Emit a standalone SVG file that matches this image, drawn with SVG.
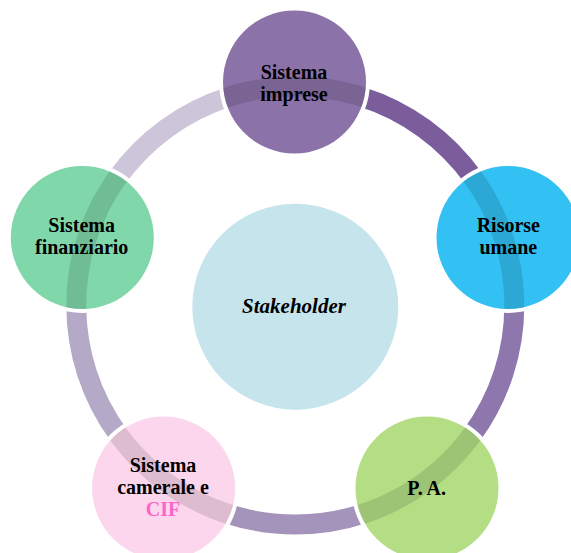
<svg xmlns="http://www.w3.org/2000/svg" width="571" height="553" viewBox="0 0 571 553">
  <style>
    .lbl { font-family: "Liberation Serif", "Times New Roman", serif; font-weight: bold; font-size: 20px; fill: #000; text-anchor: middle; }
    .arc { fill: none; stroke-width: 20; stroke-linecap: butt; }
    .halo { fill: #fff; }
  </style>
  <defs>
    <clipPath id="nodesClip">
      <circle cx="294.5" cy="82" r="71.5"/>
      <circle cx="508" cy="237.5" r="71.5"/>
      <circle cx="427" cy="488" r="71.5"/>
      <circle cx="163.6" cy="488" r="71.5"/>
      <circle cx="82.3" cy="237.5" r="71.5"/>
    </clipPath>
  </defs>
  <rect width="571" height="553" fill="#fff"/>

  <g id="connectors">
    <path class="arc" stroke="#7b5d9c" d="M295.3 86.5 A219 219 0 0 1 503.58 237.82"/>
    <path class="arc" stroke="#8e77ad" d="M503.58 237.82 A219 219 0 0 1 424.03 482.67"/>
    <path class="arc" stroke="#a494bc" d="M424.03 482.67 A219 219 0 0 1 166.57 482.67"/>
    <path class="arc" stroke="#b5a9c8" d="M166.57 482.67 A219 219 0 0 1 87.02 237.82"/>
    <path class="arc" stroke="#cdc6da" d="M87.02 237.82 A219 219 0 0 1 295.3 86.5"/>
  </g>

  <g id="halos">
    <circle class="halo" cx="294.5" cy="82" r="75.5"/>
    <circle class="halo" cx="508" cy="237.5" r="75.5"/>
    <circle class="halo" cx="427" cy="488" r="75.5"/>
    <circle class="halo" cx="163.6" cy="488" r="75.5"/>
    <circle class="halo" cx="82.3" cy="237.5" r="75.5"/>
  </g>

  <g id="stakeholder">
    <circle cx="295.3" cy="306.7" r="103" fill="#c5e4ec"/>
    <text class="lbl" x="294" y="312.5" font-size="21" style="font-size:21px" font-style="italic">Stakeholder</text>
  </g>

  <g id="sistema-imprese">
    <circle cx="294.5" cy="82" r="71.5" fill="#8b72a9"/>
  </g>
  <g id="risorse-umane">
    <circle cx="508" cy="237.5" r="71.5" fill="#33c0f2"/>
  </g>
  <g id="pa">
    <circle cx="427" cy="488" r="71.5" fill="#b3de84"/>
  </g>
  <g id="sistema-camerale">
    <circle cx="163.6" cy="488" r="71.5" fill="#fcd6ec"/>
  </g>
  <g id="sistema-finanziario">
    <circle cx="82.3" cy="237.5" r="71.5" fill="#80d8aa"/>
  </g>

  <g id="ring-overlay" clip-path="url(#nodesClip)">
    <circle cx="295.3" cy="305.5" r="219" fill="none" stroke="#000" stroke-opacity="0.12" stroke-width="20"/>
  </g>

  <g id="labels">
    <text class="lbl" x="294" y="78.5">Sistema</text>
    <text class="lbl" x="294" y="100.5">imprese</text>
    <text class="lbl" x="508.3" y="232.2">Risorse</text>
    <text class="lbl" x="508.3" y="254">umane</text>
    <text class="lbl" x="426.7" y="495">P. A.</text>
    <text class="lbl" x="163" y="472">Sistema</text>
    <text class="lbl" x="163" y="494">camerale e</text>
    <text class="lbl" x="163" y="516" style="fill:#f766c8">CIF</text>
    <text class="lbl" x="81.7" y="232.2">Sistema</text>
    <text class="lbl" x="81.7" y="254.2">finanziario</text>
  </g>
</svg>
